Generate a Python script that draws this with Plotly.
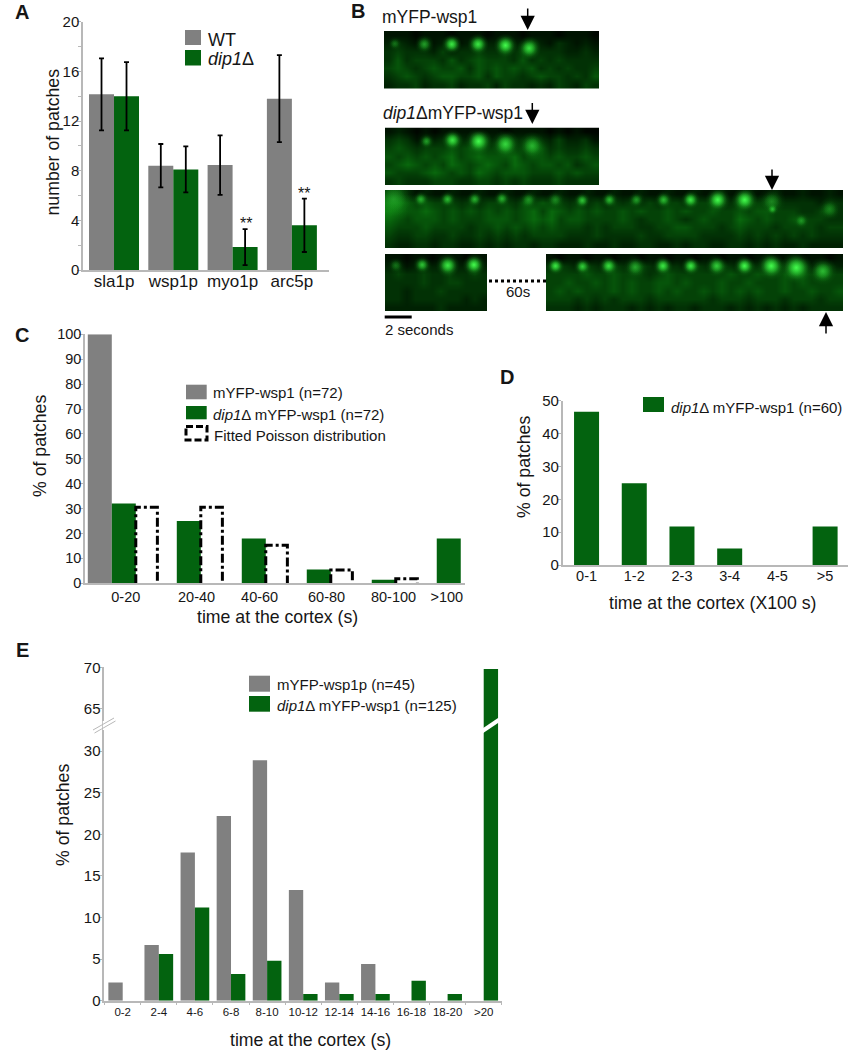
import plotly.graph_objects as go

W, H = 849, 1050
GRAY, GREEN = "#808080", "#03630f"
AXIS = "#b8b8b8"
INK = "#161616"
FONT = "Liberation Sans, Arial, sans-serif"

# ---------- Panel A
A_CATS = ["sla1p", "wsp1p", "myo1p", "arc5p"]
A_WT = [14.15, 8.4, 8.45, 13.8]
A_WT_ERR = [2.9, 1.75, 2.4, 3.5]
A_DIP = [14.0, 8.1, 1.85, 3.6]
A_DIP_ERR = [2.75, 1.85, 1.45, 2.15]

# ---------- Panel C
C_CATS = ["0-20", "20-40", "40-60", "60-80", "80-100", ">100"]
C_WT = [100, 0, 0, 0, 0, 0]
C_DIP = [32, 25, 18, 5.5, 1.4, 18]
C_POISSON = [30.5, 30.5, 15.3, 5.3, 1.8]

# ---------- Panel D
D_CATS = ["0-1", "1-2", "2-3", "3-4", "4-5", ">5"]
D_DIP = [46.6, 24.9, 11.7, 5.0, 0, 11.7]

# ---------- Panel E
E_CATS = ["0-2", "2-4", "4-6", "6-8", "8-10", "10-12", "12-14", "14-16", "16-18", "18-20", ">20"]
E_WT = [2.2, 6.7, 17.8, 22.2, 28.9, 13.3, 2.2, 4.4, 0, 0, 0]
E_DIP = [0, 5.6, 11.2, 3.2, 4.8, 0.8, 0.8, 0.8, 2.4, 0.8, 69.8]

# ---------- Panel B: micrograph strips, brightness read by eye (0-9), 3 cells per frame
S1_ROWS = ["111011101110111011101110", "232131231232232242132121", "343332423343343443332232",
           "353444353454443534343333", "454345445354545453434334", "345434554453544345443435",
           "233423342334243323243243"]
S2_ROWS = ["121010111101101111010100", "343132343243243343242231", "454344454554454455343343",
           "545454564565556455454454", "456545465456546545545345", "544456545465455544454544",
           "343334443344343433343333"]
S3_ROWS = ["332121121121121121121121121121121121121121121121121",
           "665454443434443545443434343434344344433444333333233",
           "765565454545454564654545445454454544544545544433443",
           "654555454445554565645544445434454345444654544544433",
           "544454444344545454544434344433445544434544434444344",
           "433443343343434344443334333343344443333434343434333",
           "322332332232323323322232232233223233223323232232222"]
S4_ROWS = ["110110111011", "231232232232", "343343343343", "333343344333",
           "332333433333", "332333333232", "222222322222"]
S5_ROWS = ["101101101101101101101101101101101", "343243243243233243243243243242232",
           "444454454443454444445445445454444", "445445454544554544454454445454444",
           "454544454544545445454545445445445", "444343434443444444344434443444344",
           "333232333232323323332323232323333"]

S1_SPOT_F = [0.4, 1.5, 2.52, 3.5, 4.52, 5.4]
S1_SPOT_R = [0.22, 0.23, 0.23, 0.23, 0.25, 0.3]
S1_SPOT_B = [0.25, 0.45, 0.85, 0.85, 1.0, 0.8]
S1_SPOT_S = [12, 16, 17, 18, 20, 20]

S2_SPOT_F = [1.55, 2.52, 3.5, 4.5, 5.5]
S2_SPOT_R = [0.24, 0.22, 0.24, 0.29, 0.32]
S2_SPOT_B = [0.45, 0.85, 1.0, 0.75, 0.55]
S2_SPOT_S = [13, 18, 23, 24, 24]

S3_SPOT_F = [0.32, 1.33, 2.32, 3.33, 4.34, 5.33, 6.32, 7.32, 8.33, 9.33, 10.34, 11.34, 12.35, 13.35, 14.35, 14.38, 15.45, 16.5]
S3_SPOT_R = [0.16, 0.16, 0.16, 0.16, 0.15, 0.17, 0.17, 0.18, 0.17, 0.17, 0.17, 0.17, 0.17, 0.17, 0.2, 0.33, 0.53, 0.33]
S3_SPOT_B = [0.4, 0.55, 0.6, 0.55, 0.55, 0.4, 0.35, 0.65, 0.6, 0.45, 0.6, 0.85, 1.0, 1.0, 0.35, 0.6, 0.4, 0.3]
S3_SPOT_S = [38, 14, 14, 14, 14, 16, 16, 14, 14, 14, 15, 16, 21, 22, 24, 10, 14, 20]

S4_SPOT_F = [0.42, 1.45, 2.45, 3.47]
S4_SPOT_R = [0.2, 0.19, 0.2, 0.19]
S4_SPOT_B = [0.25, 0.65, 0.85, 1.0]
S4_SPOT_S = [14, 15, 20, 19]

S5_SPOT_F = [0.35, 1.35, 2.32, 3.3, 4.33, 5.36, 6.32, 7.35, 8.34, 9.27, 10.25]
S5_SPOT_R = [0.21, 0.22, 0.21, 0.23, 0.21, 0.21, 0.21, 0.21, 0.21, 0.24, 0.3]
S5_SPOT_B = [0.85, 0.7, 0.8, 0.5, 0.85, 0.85, 0.7, 1.0, 1.0, 1.0, 0.6]
S5_SPOT_S = [15, 15, 17, 20, 17, 16, 19, 18, 24, 27, 24]


def px(x):
    return x / W


def py(y):
    return 1 - y / H


def xd(l, r):
    return [px(l), px(r)]


def yd(t, b):
    return [py(b), py(t)]


annotations, shapes = [], []


def text(x, y, s, size=15, anchor="left", angle=0, bold=False):
    annotations.append(dict(xref="paper", yref="paper", x=px(x), y=py(y), text=f"<b>{s}</b>" if bold else s,
                            showarrow=False, xanchor=anchor, yanchor="middle", textangle=angle,
                            font=dict(size=size, color=INK, family=FONT), borderpad=0, borderwidth=0))


def swatch(x0, y0, x1, y1, color):
    shapes.append(dict(type="rect", xref="paper", yref="paper", x0=px(x0), x1=px(x1), y0=py(y0), y1=py(y1),
                       fillcolor=color, line=dict(width=0)))


def seg(x0, y0, x1, y1, color, width, dash="solid"):
    shapes.append(dict(type="line", xref="paper", yref="paper", x0=px(x0), x1=px(x1), y0=py(y0), y1=py(y1),
                       line=dict(color=color, width=width, dash=dash)))


def arrow(x, tail, tip):
    annotations.append(dict(xref="paper", yref="paper", x=px(x), y=py(tip), ax=0, ay=tail - tip, text="",
                            showarrow=True, arrowhead=2, arrowsize=1.9, arrowwidth=1.5, arrowcolor="black",
                            axref="pixel", ayref="pixel"))


def yaxis(domain, rng, dtick, size=15, **kw):
    return dict(domain=domain, range=rng, dtick=dtick, showline=True, linecolor=AXIS, linewidth=1.5, ticks="outside",
                ticklen=4, tickwidth=1, tickcolor=AXIS, showgrid=False, zeroline=False, automargin=False,
                ticklabelstandoff=-5, tickfont=dict(size=size, color=INK, family=FONT), **kw)


def xaxis(domain, rng, size=14.5, **kw):
    d = dict(domain=domain, range=rng, showline=True, linecolor=AXIS, linewidth=1.5, showgrid=False, zeroline=False,
             automargin=False, tickangle=0, tickfont=dict(size=size, color=INK, family=FONT))
    d.setdefault("ticks", "")
    d.update(kw)
    return d


def glow_color(b, alpha=1.0):
    return f"rgba({int(20 + 50 * b)},{int(120 + 135 * b)},{int(24 + 56 * b)},{alpha})"


fig = go.Figure()
ERR = dict(type="data", color="black", thickness=1.8, width=2.5)

# Panel A
w = 25 / 59.3
fig.add_bar(x=A_CATS, y=A_WT, width=w, offset=-w, marker_color=GRAY, name="WT", xaxis="x", yaxis="y",
            error_y=dict(array=A_WT_ERR, **ERR))
fig.add_bar(x=A_CATS, y=A_DIP, width=w, offset=0, marker_color=GREEN, name="dip1Δ", xaxis="x", yaxis="y",
            error_y=dict(array=A_DIP_ERR, **ERR))
annotations.append(dict(xref="x", yref="y", x=2.22, y=3.75, text="**", showarrow=False, font=dict(size=16, color=INK, family=FONT)))
annotations.append(dict(xref="x", yref="y", x=3.21, y=6.15, text="**", showarrow=False, font=dict(size=16, color=INK, family=FONT)))

# Panel C
w = 24 / 65
fig.add_bar(x=list(range(6)), y=C_WT, width=w, offset=-1.5 * w, marker_color=GRAY, name="mYFP-wsp1 (n=72)", xaxis="x2", yaxis="y2")
fig.add_bar(x=list(range(6)), y=C_DIP, width=w, offset=-0.5 * w, marker_color=GREEN, name="dip1Δ mYFP-wsp1 (n=72)", xaxis="x2", yaxis="y2")
pois_x, pois_y = [], []
for i, v in enumerate(C_POISSON):
    pois_x += [i + 0.5 * w, i + 0.5 * w, i + 1.4 * w, i + 1.4 * w, None]
    pois_y += [0, v, v, 0, None]
fig.add_scatter(x=pois_x, y=pois_y, mode="lines", line=dict(color="black", width=3, dash="9px,3px,3px,3px"),
                name="Fitted Poisson distribution", xaxis="x2", yaxis="y2")

# Panel D
w = 25 / 47.7
fig.add_bar(x=D_CATS, y=D_DIP, width=w, offset=-w / 2, marker_color=GREEN, name="dip1Δ mYFP-wsp1 (n=60)", xaxis="x3", yaxis="y3")

# Panel E (broken axis: the same bars on a lower and an upper y axis)
w = 14.35 / 36.1
for ya in ("y4", "y5"):
    fig.add_bar(x=E_CATS, y=E_WT, width=w, offset=-w, marker_color=GRAY, name="mYFP-wsp1p (n=45)", xaxis="x4", yaxis=ya)
    fig.add_bar(x=E_CATS, y=E_DIP, width=w, offset=0, marker_color=GREEN, name="dip1Δ mYFP-wsp1 (n=125)", xaxis="x4", yaxis=ya)

# Panel B strips
SHADES = [[0, "#000600"], [0.2, "#001e02"], [0.4, "#033a06"], [0.6, "#075c0b"], [0.8, "#0e8212"], [1, "#24a828"]]
STRIPS = [
    (S1_ROWS, 8, S1_SPOT_F, S1_SPOT_R, S1_SPOT_B, S1_SPOT_S, (384, 599, 31, 88.5)),
    (S2_ROWS, 8, S2_SPOT_F, S2_SPOT_R, S2_SPOT_B, S2_SPOT_S, (385, 599, 127.5, 185)),
    (S3_ROWS, 17, S3_SPOT_F, S3_SPOT_R, S3_SPOT_B, S3_SPOT_S, (385, 843, 190, 248)),
    (S4_ROWS, 4, S4_SPOT_F, S4_SPOT_R, S4_SPOT_B, S4_SPOT_S, (385, 487.5, 254, 311)),
    (S5_ROWS, 11, S5_SPOT_F, S5_SPOT_R, S5_SPOT_B, S5_SPOT_S, (546, 843, 254, 311)),
]
strip_axes = {}
for k, (rows, frames, sf, sr, sb, ss, box) in enumerate(STRIPS):
    n = 6 + k
    xn, yn = f"x{n}", f"y{n}"
    ncol = frames * 3
    z = [[int(c) for c in r.ljust(ncol, r[-1])[:ncol]] for r in rows]
    fig.add_heatmap(z=z, x0=1 / 6, dx=1 / 3, y0=0.5 / len(rows), dy=1 / len(rows), colorscale=SHADES, zmin=0, zmax=9,
                    zsmooth="best", showscale=False, hoverinfo="skip", xaxis=xn, yaxis=yn)
    # soft halo, then tighter cores on top of it
    for scale, edge in ((1.2, "rgba(10,110,14,0)"), (0.9, "rgba(20,160,24,0)"), (0.65, "rgba(30,200,36,0)")):
        fig.add_scatter(x=sf, y=sr, mode="markers", hoverinfo="skip", xaxis=xn, yaxis=yn,
                        marker=dict(size=[s * scale for s in ss], color=edge, line=dict(width=0),
                                    gradient=dict(type="radial", color=[glow_color(b, min(1, 0.15 + b)) for b in sb])))
    l, r, t, b = box
    strip_axes[f"xaxis{n}"] = dict(domain=xd(l, r), range=[0, frames], visible=False, anchor=yn)
    strip_axes[f"yaxis{n}"] = dict(domain=yd(t, b), range=[1, 0], visible=False, anchor=xn)

# Panel letters
text(22, 12, "A", 20, "center", bold=True)
text(358, 11, "B", 20, "center", bold=True)
text(22, 335, "C", 20, "center", bold=True)
text(507, 377, "D", 20, "center", bold=True)
text(22, 650, "E", 20, "center", bold=True)

# Titles
text(52.5, 142, "number of patches", 17.7, "center", -90)
text(40, 446, "% of patches", 17.7, "center", -90)
text(277, 617, "time at the cortex (s)", 17.7, "center")
text(524, 467, "% of patches", 17.7, "center", -90)
text(712, 603, "time at the cortex (X100 s)", 17.7, "center")
text(63, 815, "% of patches", 17.7, "center", -90)
text(310, 1040, "time at the cortex (s)", 17.7, "center")

# Legends
swatch(185, 30, 201, 45, GRAY)
swatch(185, 50, 201, 65.5, GREEN)
text(208, 40, "WT", 18)
text(208, 59, "<i>dip1</i>Δ", 18)

swatch(186, 384.7, 206.7, 399.3, GRAY)
swatch(186, 406, 206.7, 419.3, GREEN)
shapes.append(dict(type="rect", xref="paper", yref="paper", x0=px(186), x1=px(207), y0=py(426.5), y1=py(440),
                   fillcolor="white", line=dict(color="black", width=3, dash="7px,3px")))
text(213.3, 392.7, "mYFP-wsp1 (n=72)")
text(213.3, 414, "<i>dip1</i>Δ mYFP-wsp1 (n=72)")
text(214, 435, "Fitted Poisson distribution")

swatch(643, 397, 664, 412, GREEN)
text(671, 407, "<i>dip1</i>Δ mYFP-wsp1 (n=60)")

swatch(249, 675.7, 270, 691.7, GRAY)
swatch(249, 696, 270, 711.7, GREEN)
text(276.7, 684, "mYFP-wsp1p (n=45)")
text(276.7, 705, "<i>dip1</i>Δ mYFP-wsp1 (n=125)")

# Axis breaks in panel E
seg(104.3, 721, 104.3, 730, "white", 3)
seg(93, 730, 114, 718, AXIS, 1)
seg(94.5, 733, 115.5, 721, AXIS, 1)
seg(481, 732, 504, 716.5, "white", 4)

# Panel B texts and marks
text(382, 17, "mYFP-wsp1", 17.5)
text(382.5, 113, "<i>dip1</i>ΔmYFP-wsp1", 17.5)
text(517.7, 291.7, "60s", 15, "center")
text(384.5, 329, "2 seconds", 15)
seg(384.7, 317, 411.7, 317, "black", 3)
seg(489, 281, 546, 281, "black", 3, "dot")
arrow(527.7, 7, 30)
arrow(532.3, 101.5, 124)
arrow(772, 168, 190)
arrow(826, 335, 312)

fig.update_traces(selector=dict(type="bar"), marker_line_width=0)
fig.update_layout(
    template="none",
    width=W, height=H, autosize=False, margin=dict(l=0, r=0, t=0, b=0, pad=0), showlegend=False,
    paper_bgcolor="white", plot_bgcolor="rgba(0,0,0,0)", barmode="overlay",
    font=dict(family=FONT, color=INK),
    annotations=annotations, shapes=shapes,
    xaxis=xaxis(xd(83, 329), [-0.523, 3.626], size=17, type="category", anchor="y", ticklabelstandoff=-5),
    yaxis=yaxis(yd(21.7, 270), [0, 20], 4, anchor="x", minor=dict(dtick=2, ticks="outside", ticklen=3, tickcolor=AXIS)),
    xaxis2=xaxis(xd(85, 465), [-0.597, 5.25], anchor="y2", tickmode="array",
                 tickvals=[0.03, 1.12, 2.09, 3.12, 4.15, 4.97], ticktext=C_CATS),
    yaxis2=yaxis(yd(334.3, 583.3), [0, 100], 10, size=14.5, anchor="x2"),
    xaxis3=xaxis(xd(562.7, 848), [-0.5, 5.48], type="category", anchor="y3", ticklabelstandoff=-3),
    yaxis3=yaxis(yd(400.7, 565), [0, 50], 10, anchor="x3"),
    xaxis4=xaxis(xd(104.3, 502.3), [-0.51, 10.515], size=11.5, type="category", anchor="y4",
                 ticks="outside", tickson="boundaries", ticklen=3, tickcolor=AXIS),
    yaxis4=yaxis(yd(725, 1000.7), [0, 33.14], 5, size=15, anchor="x4"),
    yaxis5=yaxis(yd(667.3, 725), [63.08, 70], 5, size=15, anchor="x4", tick0=65),
    **strip_axes,
)
fig.write_html("out.html", config=dict(displayModeBar=False), post_script="document.body.style.margin='0';")
